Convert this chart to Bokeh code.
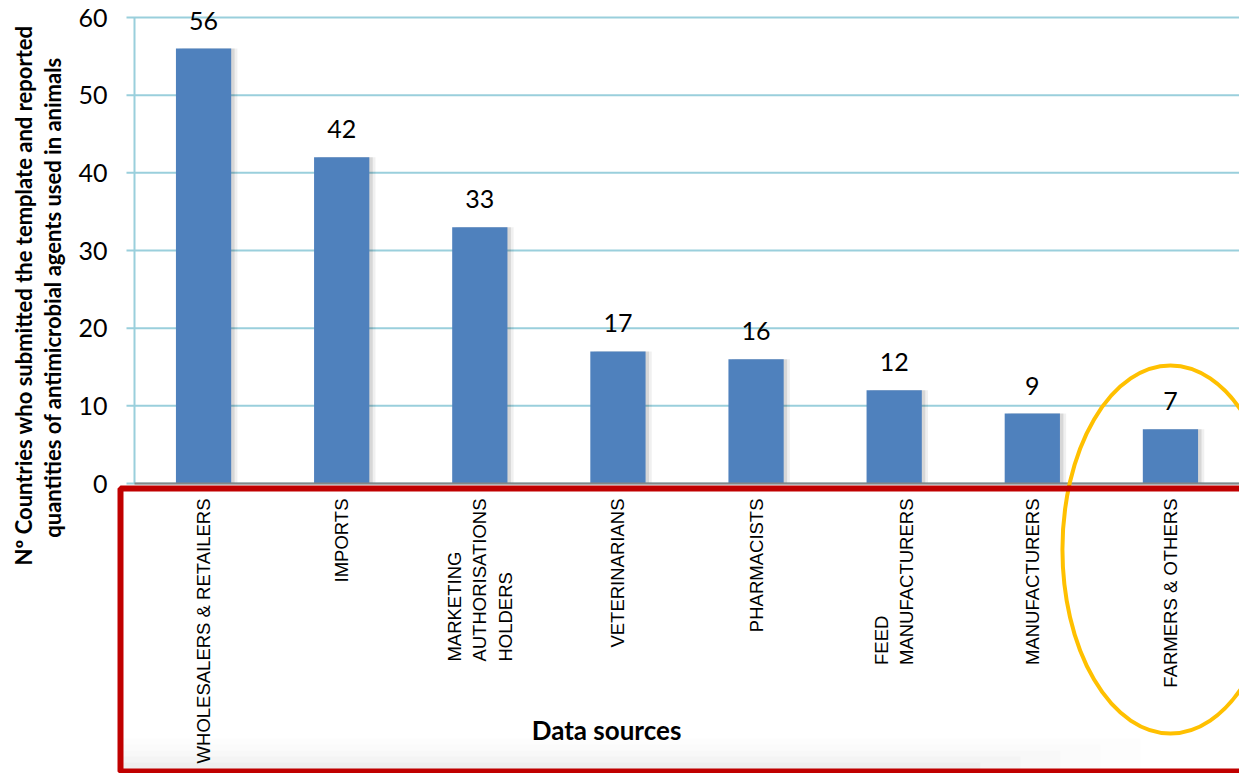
import numpy as np
from bokeh.plotting import figure
from bokeh.models import ColumnDataSource, Range1d, Label, BoxAnnotation
from bokeh.transform import dodge
from bokeh.core.properties import value
from bokeh.embed import file_html
from bokeh.resources import INLINE

# ---- data ----
categories = ["WHOLESALERS & RETAILERS", "IMPORTS",
              "MARKETING\nAUTHORISATIONS\nHOLDERS", "VETERINARIANS",
              "PHARMACISTS", "FEED\nMANUFACTURERS", "MANUFACTURERS",
              "FARMERS & OTHERS"]
counts = [56, 42, 33, 17, 16, 12, 9, 7]
y_ticks = [0, 10, 20, 30, 40, 50, 60]
y_tick_labels = ["0", "10", "20", "30", "40", "50", "60"]
y_title = ["Nº Countries who submitted the template and reported",
           "quantities of antimicrobial agents used in animals"]
x_title = "Data sources"
highlight = "FARMERS & OTHERS"

# ---- layout constants (pixels) ----
W, H = 1239, 773
PLOT_LEFT, PLOT_RIGHT = 134, 1239      # canvas x of the category axis extent
Y0_PIX, Y60_PIX = 483, 17              # canvas y of value 0 and value 60
n = len(categories)
px_x = (PLOT_RIGHT - PLOT_LEFT) / n    # pixels per category
px_y = (Y0_PIX - Y60_PIX) / 60.0       # pixels per unit

xpos = np.arange(n) + 0.5
src = ColumnDataSource(dict(x=xpos, cat=categories, n=counts,
                            lbl=[str(c) for c in counts]))
tick_src = ColumnDataSource(dict(y=y_ticks, lbl=y_tick_labels))

x_range = Range1d(-PLOT_LEFT / px_x, (W - PLOT_LEFT) / px_x)
y_range = Range1d(-(H - Y0_PIX) / px_y, Y0_PIX / px_y)

p = figure(width=W, height=H, output_backend="svg", toolbar_location=None,
           x_range=x_range, y_range=y_range, x_axis_type=None, y_axis_type=None,
           min_border=0)
p.outline_line_color = None
p.background_fill_color = "white"
p.border_fill_color = "white"

GRID = "#9ACFDC"
tick_len = 8 / px_x

# very soft grey shading at the bottom of the label area
for k, a in enumerate([0.006, 0.009, 0.012, 0.015, 0.018]):
    p.add_layout(BoxAnnotation(left=120, right=1140 - 40 * k, top=H - 738 - 6 * k, bottom=0,
                               left_units="screen", right_units="screen",
                               top_units="screen", bottom_units="screen",
                               fill_color="black", fill_alpha=a, line_color=None,
                               level="underlay"))

# horizontal grid lines (with the outward tick stubs)
p.segment(x0=-tick_len, x1=n, y0="y", y1="y", source=tick_src,
          line_color=GRID, line_width=2)
# y axis line
p.segment(x0=[0], x1=[0], y0=[min(y_ticks)], y1=[max(y_ticks)],
          line_color=GRID, line_width=2)
# y tick labels
p.text(x=0, y="y", text="lbl", source=tick_src, x_offset=-27,
       text_align="right", text_baseline="middle", text_font=value("Lato"),
       text_font_size="25px", text_color="black")

# bar shadows
p.vbar(x=dodge("x", 0.045), top="n", width=0.4, source=src,
       fill_color="black", fill_alpha=0.06, line_color=None)
p.vbar(x=dodge("x", 0.025), top="n", width=0.4, source=src,
       fill_color="black", fill_alpha=0.10, line_color=None)
# bars
p.vbar(x="x", top="n", width=0.4, source=src, fill_color="#4F81BD",
       line_color=None)
# value labels
p.text(x="x", y="n", text="lbl", source=src, text_align="center",
       text_baseline="alphabetic", y_offset=-28, text_font=value("Lato"),
       text_font_size="25px", text_color="black")

# category axis baseline
p.segment(x0=[0], x1=[n], y0=[0], y1=[0], line_color="#868686", line_width=2)
# category labels (rotated, reading upwards; lines left-justified)
p.text(x="x", y=0, text="cat", source=src, angle=np.pi / 2, y_offset=15,
       anchor="center_right", text_align="left", text_baseline="middle",
       text_font=value("Liberation Sans"), text_font_size="18.5px",
       text_color="black")

# red frame around the category labels
p.add_layout(BoxAnnotation(left=120, right=1260, top=H - 488, bottom=H - 771,
                           left_units="screen", right_units="screen",
                           top_units="screen", bottom_units="screen",
                           fill_color=None, line_color="#C00000", line_width=6,
                           line_alpha=1.0))

# yellow ellipse around the highlighted category
hi = categories.index(highlight)
p.ellipse(x=[xpos[hi]], y=[-(549 - Y0_PIX) / px_y], width=216, height=368,
          width_units="screen", height_units="screen", fill_color=None,
          line_color="#FFC000", line_width=4)

# axis titles
for cx, cy, txt in [(23, 295, y_title[0]), (52, 297, y_title[1])]:
    p.add_layout(Label(x=cx, y=H - cy, x_units="screen", y_units="screen", text=txt,
                       angle=np.pi / 2, text_align="center", text_baseline="middle",
                       text_font="Lato", text_font_style="bold", text_font_size="22px",
                       text_color="black"))
p.add_layout(Label(x=606, y=H - 729, x_units="screen", y_units="screen", text=x_title,
                   text_align="center", text_baseline="middle",
                   text_font="Lato", text_font_style="bold", text_font_size="26px",
                   text_color="black"))

open("out.html", "w").write(file_html(p, INLINE))
